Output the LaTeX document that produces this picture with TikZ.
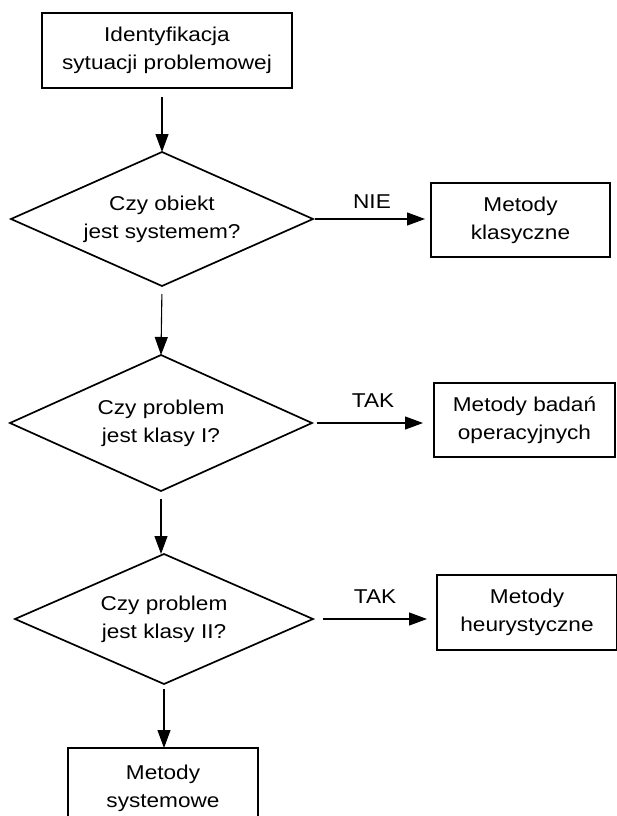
\documentclass[tikz,border=0pt]{standalone}
\usepackage{fontspec}
\setmainfont{Liberation Sans}[FakeStretch=1.13]
\usepackage{tikz}
\usetikzlibrary{shapes.geometric,arrows.meta}

\begin{document}
\begin{tikzpicture}[x=1pt, y=-1pt,
    every node/.style={font=\fontsize{20}{28}\selectfont},
    box/.style={draw, line width=1.2pt, align=center, inner sep=0pt, outer sep=0pt},
    decision/.style={draw, diamond, aspect=2.25, line width=1.7pt, align=center,
      inner sep=0pt, outer sep=0pt},
    arr/.style={line width=1.1pt, -{Triangle[length=18pt, width=13pt]}},
    answer/.style={inner sep=0pt}]
      \path [use as bounding box, clip] (0,0) rectangle (617,816);
      \node [box, minimum width=250pt, minimum height=75pt] (ident) at (167,50.5) {Identyfikacja\\sytuacji problemowej};
      \node [decision, minimum width=302pt, minimum height=134pt] (obiekt) at (162,219) {Czy obiekt\\jest systemem?};
      \node [decision, minimum width=302pt, minimum height=136pt] (klasa1) at (161,423) {Czy problem\\jest klasy I?};
      \node [decision, minimum width=298pt, minimum height=130pt] (klasa2) at (164,619) {Czy problem\\jest klasy II?};
      \node [box, minimum width=179pt, minimum height=74pt] (klasyczne) at (520.5,220) {Metody\\klasyczne};
      \node [box, minimum width=181pt, minimum height=74pt] (operacyjne) at (524.5,420) {Metody badań\\operacyjnych};
      \node [box, minimum width=180pt, minimum height=75pt] (heurystyczne) at (527,612.5) {Metody\\heurystyczne};
      \node [box, minimum width=190pt, minimum height=80pt] (systemowe) at (163,788) {Metody\\systemowe};
      \draw [arr, shorten <=9pt] (ident.south -| obiekt.north) -- (obiekt.north);
      \draw [arr, shorten <=8pt] (obiekt.south) -- (klasa1.south |- klasa1.north);
      \draw [arr, shorten <=8pt] (klasa1.south) -- (klasa1.south |- klasa2.north);
      \draw [arr, shorten <=5pt] (klasa2.south) -- (klasa2.south |- systemowe.north);
      \draw [arr, shorten <=2pt, shorten >=6pt] (obiekt.east) -- (obiekt.east -| klasyczne.west)
        node [answer, midway, above=10pt] {NIE};
      \draw [arr, shorten <=5pt, shorten >=11pt] (klasa1.east) -- (klasa1.east -| operacyjne.west)
        node [answer, midway, above=15pt] {TAK};
      \draw [arr, shorten <=10pt, shorten >=10pt] (klasa2.east) -- (klasa2.east -| heurystyczne.west)
        node [answer, midway, above=15pt] {TAK};
\end{tikzpicture}
\end{document}
